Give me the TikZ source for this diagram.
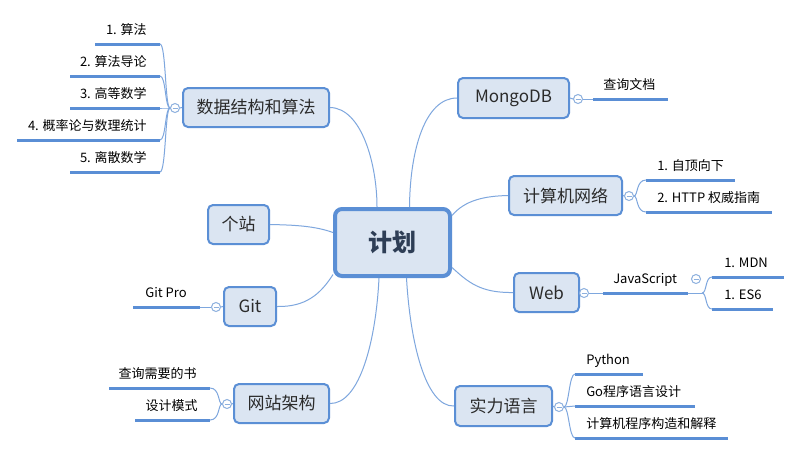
\documentclass[tikz,border=0pt]{standalone}
\usepackage{fontspec}
\setmainfont{Noto Sans CJK SC}
\newdimen\pxu \pxu=0.75pt
\definecolor{boxfillcol}{HTML}{DBE5F2}
\definecolor{boxlinecol}{HTML}{5B8FD5}
\definecolor{conncol}{HTML}{7EA7DE}
\definecolor{leaflinecol}{HTML}{5A8ED5}
\definecolor{roottextcol}{HTML}{2E3E56}
\definecolor{boxtextcol}{HTML}{2B2B2B}
\definecolor{knobcol}{HTML}{8DB0DE}
\tikzset{
 topic/.style={draw=boxlinecol, fill=boxfillcol, line width=2\pxu, rounded corners=5\pxu, inner sep=0pt, text=boxtextcol, font=\fontsize{12.75}{15}\selectfont},
 roottopic/.style={topic, line width=4\pxu, rounded corners=7\pxu, text=roottextcol, font=\fontsize{18}{22}\selectfont\bfseries},
 link/.style={draw=conncol, line width=1\pxu},
 leafline/.style={draw=leaflinecol, line width=3\pxu},
 leaftext/.style={inner sep=0pt, text height=10\pxu, text depth=3\pxu, font=\fontsize{9.75}{12}\selectfont, text=black},
 knob/.style={circle, draw=knobcol, fill=white, line width=1\pxu, minimum size=9\pxu, inner sep=0pt,
   path picture={\draw[draw=knobcol, line width=0.8\pxu] ([xshift=-2.5\pxu]path picture bounding box.center) -- ([xshift=2.5\pxu]path picture bounding box.center);}},
}
\begin{document}
\begin{tikzpicture}[x=0.75pt,y=-0.75pt]
\useasboundingbox[fill=white] (0,0) rectangle (802,455);

% ---------- main topics ----------
\node[roottopic, minimum width=115\pxu, minimum height=67\pxu] (root) at (392.5,242.5) {计划};
\node[topic, minimum width=146\pxu, minimum height=39\pxu] (ds) at (256,107.5) {数据结构和算法};
\node[topic, minimum width=111\pxu, minimum height=40\pxu] (mg) at (513.5,98) {MongoDB};
\node[topic, minimum width=113\pxu, minimum height=39\pxu] (net) at (565.5,195.5) {计算机网络};
\node[topic, minimum width=65\pxu, minimum height=39\pxu] (web) at (546.5,292.5) {Web};
\node[topic, minimum width=61\pxu, minimum height=39\pxu] (gz) at (238.5,224.5) {个站};
\node[topic, minimum width=52\pxu, minimum height=39\pxu] (git) at (250,306.5) {Git};
\node[topic, minimum width=95\pxu, minimum height=39\pxu] (site) at (281.5,403.5) {网站架构};
\node[topic, minimum width=97\pxu, minimum height=40\pxu] (lang) at (503.5,406) {实力语言};

% ---------- root connectors ----------
\coordinate (rds) at ([xshift=-15.5\pxu]root.north);
\coordinate (rmg) at ([xshift=17\pxu]root.north);
\coordinate (rnet) at ([yshift=27\pxu]root.east);
\coordinate (rweb) at ([yshift=-25\pxu]root.east);
\coordinate (rlang) at ([xshift=14\pxu]root.south);
\coordinate (rsite) at ([xshift=-13.5\pxu]root.south);
\coordinate (rgit) at ([yshift=-32\pxu]root.west);
\coordinate (rgz) at ([yshift=10\pxu]root.west);

\draw[link] (ds.east) .. controls (362,108) and (377,165) .. (rds);
\draw[link] (mg.west) .. controls (425,98) and (410,150) .. (rmg);
\draw[link] (net.west) .. controls (485,196) and (465,200) .. (rnet);
\draw[link] (web.west) .. controls (480,293) and (468,282) .. (rweb);
\draw[link] (lang.west) .. controls (425,407) and (410,340) .. (rlang);
\draw[link] (site.east) .. controls (360,404) and (376,340) .. (rsite);
\draw[link] (git.east) .. controls (305,307) and (320,295) .. (rgit);
\draw[link] (gz.east) .. controls (295,225) and (315,226) .. (rgz);

% ---------- knobs ----------
\node[knob] (kds) at (175,108) {};
\node[knob] (kmg) at (578,99) {};
\node[knob] (knet) at (629,196) {};
\node[knob] (kweb) at (584,293) {};
\node[knob] (kjs) at (696,279) {};
\node[knob] (kgit) at (216,307) {};
\node[knob] (ksite) at (227,404) {};
\node[knob] (klang) at (559,407) {};

\draw[link] (ds.west) -- (kds.east);
\draw[link] (mg.east) -- (kmg.west);
\draw[link] (net.east) -- (knet.west);
\draw[link] (web.east) -- (kweb.west);
\draw[link] (git.west) -- (kgit.east);
\draw[link] (site.west) -- (ksite.east);
\draw[link] (lang.east) -- (klang.west);

% ---------- 数据结构和算法 leaves ----------
\coordinate (d1a) at (95,44);  \coordinate (d1b) at (160,44);
\coordinate (d2a) at (70,76);  \coordinate (d2b) at (160,76);
\coordinate (d3a) at (70,108); \coordinate (d3b) at (160,108);
\coordinate (d4a) at (17,140); \coordinate (d4b) at (160,140);
\coordinate (d5a) at (70,172); \coordinate (d5b) at (160,172);
\foreach \i in {1,...,5}{
  \draw[leafline] (d\i a) -- (d\i b);
  \draw[link] (kds.west) .. controls ([xshift=-5\pxu]kds.west) and ([xshift=6\pxu]d\i b) .. (d\i b);
}
\node[leaftext, anchor=east] (td1) at (147,31) {1. 算法};
\node[leaftext, anchor=east] (td2) at (147,63) {2. 算法导论};
\node[leaftext, anchor=east] (td3) at (147,95) {3. 高等数学};
\node[leaftext, anchor=east] (td4) at (147,127) {4. 概率论与数理统计};
\node[leaftext, anchor=east] (td5) at (147,159) {5. 离散数学};

% ---------- MongoDB leaf ----------
\coordinate (m1a) at (593,99); \coordinate (m1b) at (668,99);
\draw[link] (kmg.east) -- (m1a);
\draw[leafline] (m1a) -- (m1b);
\node[leaftext, anchor=west] (tm1) at (603,86) {查询文档};

% ---------- 计算机网络 leaves ----------
\coordinate (n1a) at (646,180); \coordinate (n1b) at (735,180);
\coordinate (n2a) at (646,212); \coordinate (n2b) at (772,212);
\draw[leafline] (n1a) -- (n1b);
\draw[leafline] (n2a) -- (n2b);
\draw[link] (knet.east) .. controls (638,196) and (636,180) .. (n1a);
\draw[link] (knet.east) .. controls (638,196) and (636,212) .. (n2a);
\node[leaftext, anchor=west] (tn1) at (657,167) {1. 自顶向下};
\node[leaftext, anchor=west] (tn2) at (657,199) {2. HTTP 权威指南};

% ---------- Web leaves ----------
\coordinate (w1a) at (603,293); \coordinate (w1b) at (688,293);
\coordinate (wj) at (702,293);
\draw[link] (kweb.east) -- (w1a);
\draw[leafline] (w1a) -- (w1b);
\draw[link] (w1b) -- (wj);
\node[leaftext, anchor=west] (tw1) at (613,280) {JavaScript};
\coordinate (j1a) at (712,277); \coordinate (j1b) at (784,277);
\coordinate (j2a) at (712,309); \coordinate (j2b) at (773,309);
\draw[leafline] (j1a) -- (j1b);
\draw[leafline] (j2a) -- (j2b);
\draw[link] (wj) .. controls (707,293) and (705,277) .. (j1a);
\draw[link] (wj) .. controls (707,293) and (705,309) .. (j2a);
\node[leaftext, anchor=west] (tj1) at (724,264) {1. MDN};
\node[leaftext, anchor=west] (tj2) at (724,296) {1. ES6};

% ---------- Git leaf ----------
\coordinate (g1a) at (133,307); \coordinate (g1b) at (200,307);
\draw[leafline] (g1a) -- (g1b);
\draw[link] (g1b) -- (kgit.west);
\node[leaftext, anchor=east] (tg1) at (187,294) {Git Pro};

% ---------- 网站架构 leaves ----------
\coordinate (s1a) at (109,388); \coordinate (s1b) at (210,388);
\coordinate (s2a) at (135,420); \coordinate (s2b) at (210,420);
\draw[leafline] (s1a) -- (s1b);
\draw[leafline] (s2a) -- (s2b);
\draw[link] (ksite.west) .. controls (218,404) and (220,388) .. (s1b);
\draw[link] (ksite.west) .. controls (218,404) and (220,420) .. (s2b);
\node[leaftext, anchor=east] (ts1) at (197,375) {查询需要的书};
\node[leaftext, anchor=east] (ts2) at (198,407) {设计模式};

% ---------- 实力语言 leaves ----------
\coordinate (l1a) at (575,374); \coordinate (l1b) at (643,374);
\coordinate (l2a) at (575,406); \coordinate (l2b) at (695,406);
\coordinate (l3a) at (575,438); \coordinate (l3b) at (728,438);
\foreach \i in {1,2,3}{
  \draw[leafline] (l\i a) -- (l\i b);
  \draw[link] (klang.east) .. controls ([xshift=5\pxu]klang.east) and ([xshift=-6\pxu]l\i a) .. (l\i a);
}
\node[leaftext, anchor=west] (tl1) at (586,361) {Python};
\node[leaftext, anchor=west] (tl2) at (586,393) {Go程序语言设计};
\node[leaftext, anchor=west] (tl3) at (586,425) {计算机程序构造和解释};
\end{tikzpicture}
\end{document}
